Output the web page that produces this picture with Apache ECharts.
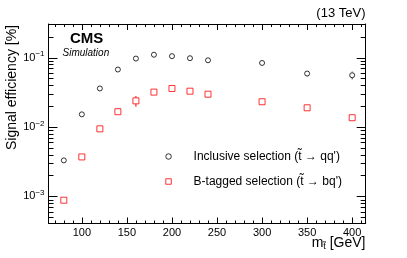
<!DOCTYPE html>
<html><head><meta charset="utf-8">
<script src="https://cdn.jsdelivr.net/npm/echarts@6/dist/echarts.min.js"></script>
<style>html,body{margin:0;padding:0;background:#fff}#c{width:407px;height:258px}</style>
</head><body><div id="c"></div>
<script>
// ---- data ----
const massPoints = [80, 100, 120, 140, 160, 180, 200, 220, 240, 300, 350, 400];
const inclusiveEff = [0.0033, 0.0152, 0.0359, 0.0673, 0.0968, 0.110, 0.105, 0.098, 0.0915, 0.0837, 0.0589, 0.0557];
const inclusiveErr = [0.0001, 0.0003, 0.0008, 0.0015, 0.002, 0.002, 0.002, 0.002, 0.002, 0.003, 0.006, 0.007];
const btagEff = [0.00088, 0.0037, 0.0094, 0.0166, 0.0238, 0.0318, 0.0359, 0.0328, 0.0297, 0.0231, 0.0189, 0.0136];
const btagErr = [0.00004, 0.0002, 0.0004, 0.0008, 0.0042, 0.0015, 0.0025, 0.0025, 0.0028, 0.0018, 0.0015, 0.0012];
const xMajorTicks = [100, 150, 200, 250, 300, 350, 400];
const xMinorTicks = [70, 80, 90, 110, 120, 130, 140, 160, 170, 180, 190, 210, 220, 230, 240, 260, 270, 280, 290, 310, 320, 330, 340, 360, 370, 380, 390, 410];
const yMajorTicks = [0.001, 0.01, 0.1];
const yMinorTicks = [0.0005, 0.0006, 0.0007, 0.0008, 0.0009, 0.002, 0.003, 0.004, 0.005, 0.006, 0.007, 0.008, 0.009, 0.02, 0.03, 0.04, 0.05, 0.06, 0.07, 0.08, 0.09, 0.2, 0.3];
const xRange = [63, 415];
const yRange = [0.000406, 0.305];
const seriesNames = ["Inclusive selection (t\u0303 \u2192 qq')", "B-tagged selection (t\u0303 \u2192 bq')"];

const FONT = 'Liberation Sans';
const chart = echarts.init(document.getElementById('c'), null, {renderer: 'canvas'});

function pairs(xs, ys) { return xs.map((x, i) => [x, ys[i]]); }
function errData(xs, ys, es) { return xs.map((x, i) => [x, ys[i], es[i]]); }
function errRender(half, color) {
  return function (params, api) {
    const x = api.value(0), y = api.value(1), e = api.value(2);
    const c = api.coord([x, y]);
    const lo = api.coord([x, y - e]);
    const hi = api.coord([x, y + e]);
    const children = [];
    if (lo[1] > c[1] + half) children.push({type: 'line', shape: {x1: c[0], y1: c[1] + half, x2: c[0], y2: lo[1]}, style: {stroke: color, lineWidth: 1}});
    if (hi[1] < c[1] - half) children.push({type: 'line', shape: {x1: c[0], y1: c[1] - half, x2: c[0], y2: hi[1]}, style: {stroke: color, lineWidth: 1}});
    return {type: 'group', children: children};
  };
}
// tick marks drawn through the axis scales (inward, mirrored on both sides)
function xTickRender(len) {
  return function (params, api) {
    const cs = params.coordSys;
    const p = api.coord([api.value(0), yRange[0]]);
    const x = Math.round(p[0]) + 0.5;
    const yb = cs.y + cs.height, yt = cs.y;
    return {type: 'group', children: [
      {type: 'line', shape: {x1: x, y1: yb, x2: x, y2: yb - len}, style: {stroke: '#000', lineWidth: 1}},
      {type: 'line', shape: {x1: x, y1: yt, x2: x, y2: yt + len}, style: {stroke: '#000', lineWidth: 1}}
    ]};
  };
}
function yTickRender(len) {
  return function (params, api) {
    const cs = params.coordSys;
    const p = api.coord([xRange[0], api.value(1)]);
    const y = Math.round(p[1]) + 0.5;
    const xl = cs.x, xr = cs.x + cs.width;
    return {type: 'group', children: [
      {type: 'line', shape: {x1: xl, y1: y, x2: xl + len, y2: y}, style: {stroke: '#000', lineWidth: 1}},
      {type: 'line', shape: {x1: xr, y1: y, x2: xr - len, y2: y}, style: {stroke: '#000', lineWidth: 1}}
    ]};
  };
}
const supMap = {'0.001': '\u22123', '0.01': '\u22122', '0.1': '\u22121'};

function tickSeries(render, data) {
  return {type: 'custom', xAxisIndex: 0, yAxisIndex: 0, renderItem: render, data: data, clip: false, silent: true, z: 10};
}

chart.setOption({
  animation: false,
  backgroundColor: '#fff',
  grid: {left: 48.5, right: 41.3, top: 24, bottom: 34.5, containLabel: false},
  xAxis: [
    {type: 'value', position: 'bottom', min: xRange[0], max: xRange[1],
      axisLine: {show: true, lineStyle: {color: '#000', width: 1}}, axisTick: {show: false},
      axisLabel: {show: true, customValues: xMajorTicks, color: '#000', fontFamily: FONT, fontSize: 11, margin: 4},
      splitLine: {show: false}},
    {type: 'value', position: 'top', min: xRange[0], max: xRange[1],
      axisLine: {show: true, lineStyle: {color: '#000', width: 1}}, axisTick: {show: false}, axisLabel: {show: false}, splitLine: {show: false}}
  ],
  yAxis: [
    {type: 'log', position: 'left', min: yRange[0], max: yRange[1], logBase: 10,
      axisLine: {show: true, lineStyle: {color: '#000', width: 1}}, axisTick: {show: false},
      axisLabel: {
        show: true, customValues: yMajorTicks, margin: 4,
        formatter: function (v) { const k = Object.keys(supMap).find(s => Math.abs(parseFloat(s) - v) / v < 1e-3); return '{b|10}{s|' + (k ? supMap[k] : '') + '}'; },
        rich: {
          b: {fontFamily: FONT, fontSize: 11, color: '#000'},
          s: {fontFamily: FONT, fontSize: 8, color: '#000', padding: [0, 0, 7, 0]}
        }
      },
      splitLine: {show: false}},
    {type: 'log', position: 'right', min: yRange[0], max: yRange[1], logBase: 10,
      axisLine: {show: true, lineStyle: {color: '#000', width: 1}}, axisTick: {show: false}, axisLabel: {show: false}, splitLine: {show: false}}
  ],
  legend: {
    orient: 'vertical', left: 165.3, top: 149.5, padding: 0, itemWidth: 40, itemHeight: 5.5, itemGap: 11,
    selectedMode: false, symbolKeepAspect: true,
    data: [
      {name: seriesNames[0], icon: 'path://M5,0A5,5,0,1,1,4.99,0Z', itemStyle: {color: 'rgba(0,0,0,0)', borderColor: '#000', borderWidth: 1}},
      {name: seriesNames[1], icon: 'path://M0,0H10V10H0Z', itemStyle: {color: 'rgba(0,0,0,0)', borderColor: '#ff0000', borderWidth: 1}}
    ],
    textStyle: {fontFamily: FONT, fontSize: 12, color: '#000', lineHeight: 14}
  },
  series: [
    {name: seriesNames[0], type: 'scatter', xAxisIndex: 0, yAxisIndex: 0, symbol: 'circle', symbolSize: 5,
      itemStyle: {color: 'rgba(0,0,0,0)', borderColor: '#000', borderWidth: 1}, data: pairs(massPoints, inclusiveEff), z: 5},
    {name: seriesNames[1], type: 'scatter', xAxisIndex: 0, yAxisIndex: 0, symbol: 'rect', symbolSize: 6,
      itemStyle: {color: 'rgba(0,0,0,0)', borderColor: '#ff0000', borderWidth: 1}, data: pairs(massPoints, btagEff), z: 5},
    {type: 'custom', xAxisIndex: 0, yAxisIndex: 0, renderItem: errRender(3, '#000'), data: errData(massPoints, inclusiveEff, inclusiveErr), z: 4},
    {type: 'custom', xAxisIndex: 0, yAxisIndex: 0, renderItem: errRender(3, '#ff0000'), data: errData(massPoints, btagEff, btagErr), z: 4},
    tickSeries(xTickRender(6), xMajorTicks.map(v => [v, yRange[0]])),
    tickSeries(xTickRender(3), xMinorTicks.map(v => [v, yRange[0]])),
    tickSeries(yTickRender(9), yMajorTicks.map(v => [xRange[0], v])),
    tickSeries(yTickRender(5), yMinorTicks.map(v => [xRange[0], v]))
  ],
  graphic: [
    {type: 'text', left: 70, top: 31, style: {text: 'CMS', fontFamily: FONT, fontWeight: 'bold', fontSize: 15, fill: '#000'}},
    {type: 'text', left: 62.5, top: 48.5, style: {text: 'Simulation', fontFamily: FONT, fontStyle: 'italic', fontSize: 10, fill: '#000'}},
    {type: 'text', right: 41.5, top: 7, style: {text: '(13 TeV)', fontFamily: FONT, fontSize: 13, fill: '#000'}},
    {type: 'text', x: 12, y: 25, rotation: Math.PI / 2, style: {text: 'Signal efficiency [%]', fontFamily: FONT, fontSize: 14, fill: '#000', align: 'right', verticalAlign: 'middle'}},
    {type: 'text', right: 41.5, top: 236, style: {text: '{m|m}{t|t\u0303}{m| [GeV]}', rich: {
      m: {fontFamily: FONT, fontSize: 14, fill: '#000'},
      t: {fontFamily: FONT, fontSize: 9, fill: '#000', padding: [8, 0, 0, 0]}
    }}}
  ]
});
</script></body></html>
